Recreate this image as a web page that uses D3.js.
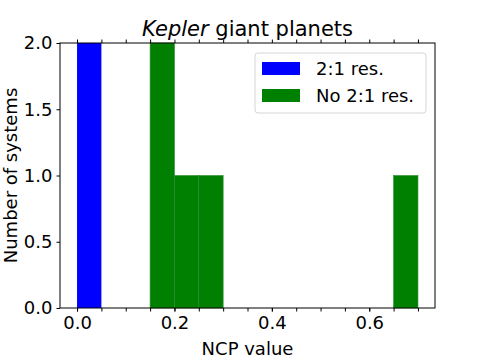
<!DOCTYPE html>
<meta charset="utf-8">
<style>
body { margin: 0; background: #fff; }
text { font-family: "DejaVu Sans", sans-serif; fill: #000; }
</style>
<svg width="484" height="363"></svg>
<script src="https://d3js.org/d3.v7.min.js"></script>
<script>
var binEdges = [0, 0.05, 0.1, 0.15, 0.2, 0.25, 0.3, 0.35, 0.4, 0.45, 0.5, 0.55, 0.6, 0.65, 0.7];
var resCounts = [2, 0, 0, 0, 0, 0, 0, 0, 0, 0, 0, 0, 0, 0];
var noResCounts = [0, 0, 0, 2, 1, 1, 0, 0, 0, 0, 0, 0, 0, 1];
var xTicks = [0, 0.2, 0.4, 0.6];
var yTicks = [0, 0.5, 1, 1.5, 2];
var series = [
  {name: "2:1 res.", color: "#0000ff", counts: resCounts},
  {name: "No 2:1 res.", color: "#008000", counts: noResCounts}
];

var svg = d3.select("svg");
var mLeft = 60, mRight = 435, mTop = 43, mBottom = 308;
var fs = "18px";

var x = d3.scaleLinear().domain([-0.035, 0.735]).range([mLeft, mRight]);
var y = d3.scaleLinear().domain([0, 2]).range([mBottom, mTop]);

// bars
series.forEach(function(s) {
  var bins = s.counts.map(function(c, i) { return {x0: binEdges[i], x1: binEdges[i + 1], c: c}; })
    .filter(function(d) { return d.c > 0; });
  svg.append("g").selectAll("rect")
    .data(bins)
    .enter().append("rect")
      .attr("x", function(d) { return x(d.x0); })
      .attr("width", function(d) { return x(d.x1) - x(d.x0); })
      .attr("y", function(d) { return y(d.c); })
      .attr("height", function(d) { return y(0) - y(d.c); })
      .attr("fill", s.color)
      .attr("stroke", s.color === "#008000" ? "#2a8a2a" : "none")
      .attr("stroke-width", 0.6);
});

// axes
var minor = d3.range(0, 0.7001, 0.05);
svg.append("g").attr("transform", "translate(0," + mBottom + ")")
  .call(d3.axisBottom(x).tickValues(minor).tickSize(3.5).tickFormat(""))
  .call(function(g) { g.select(".domain").remove(); });
svg.append("g").attr("transform", "translate(0," + mTop + ")")
  .call(d3.axisTop(x).tickValues(minor).tickSize(3.5).tickFormat(""))
  .call(function(g) { g.select(".domain").remove(); });
svg.append("g").attr("transform", "translate(0," + mBottom + ")")
  .call(d3.axisBottom(x).tickValues(xTicks).tickSize(3.5).tickPadding(5).tickFormat(d3.format(".1f")))
  .call(function(g) {
    g.select(".domain").remove();
    g.selectAll("text").style("font-size", fs);
  });
svg.append("g").attr("transform", "translate(" + mLeft + ",0)")
  .call(d3.axisLeft(y).tickValues(yTicks).tickSize(3.5).tickPadding(4).tickFormat(d3.format(".1f")))
  .call(function(g) {
    g.select(".domain").remove();
    g.selectAll("text").style("font-size", fs);
  });

svg.append("rect")
  .attr("x", mLeft).attr("y", mTop)
  .attr("width", mRight - mLeft).attr("height", mBottom - mTop)
  .attr("fill", "none").attr("stroke", "#000").attr("stroke-width", 1);

// labels
svg.append("text")
  .attr("x", (mLeft + mRight) / 2).attr("y", 36)
  .attr("text-anchor", "middle").style("font-size", "21px")
  .html('<tspan font-style="italic">Kepler</tspan> giant planets');
svg.append("text")
  .attr("x", (mLeft + mRight) / 2).attr("y", 355)
  .attr("text-anchor", "middle").style("font-size", fs)
  .text("NCP value");
svg.append("text")
  .attr("transform", "translate(17," + ((mTop + mBottom) / 2) + ") rotate(-90)")
  .attr("text-anchor", "middle").style("font-size", fs)
  .text("Number of systems");

// legend
var lg = svg.append("g").attr("transform", "translate(255,53)");
lg.append("rect")
  .attr("width", 171).attr("height", 60).attr("rx", 3)
  .attr("fill", "#fff").attr("fill-opacity", 0.8)
  .attr("stroke", "#d6d6d6").attr("stroke-width", 1);
var item = lg.selectAll(".item").data(series).enter().append("g")
  .attr("transform", function(d, i) { return "translate(7," + (9 + i * 27) + ")"; });
item.append("rect").attr("width", 38).attr("height", 13)
  .attr("fill", function(d) { return d.color; });
item.append("text").attr("x", 54).attr("y", 13)
  .style("font-size", fs)
  .text(function(d) { return d.name; });
</script>
